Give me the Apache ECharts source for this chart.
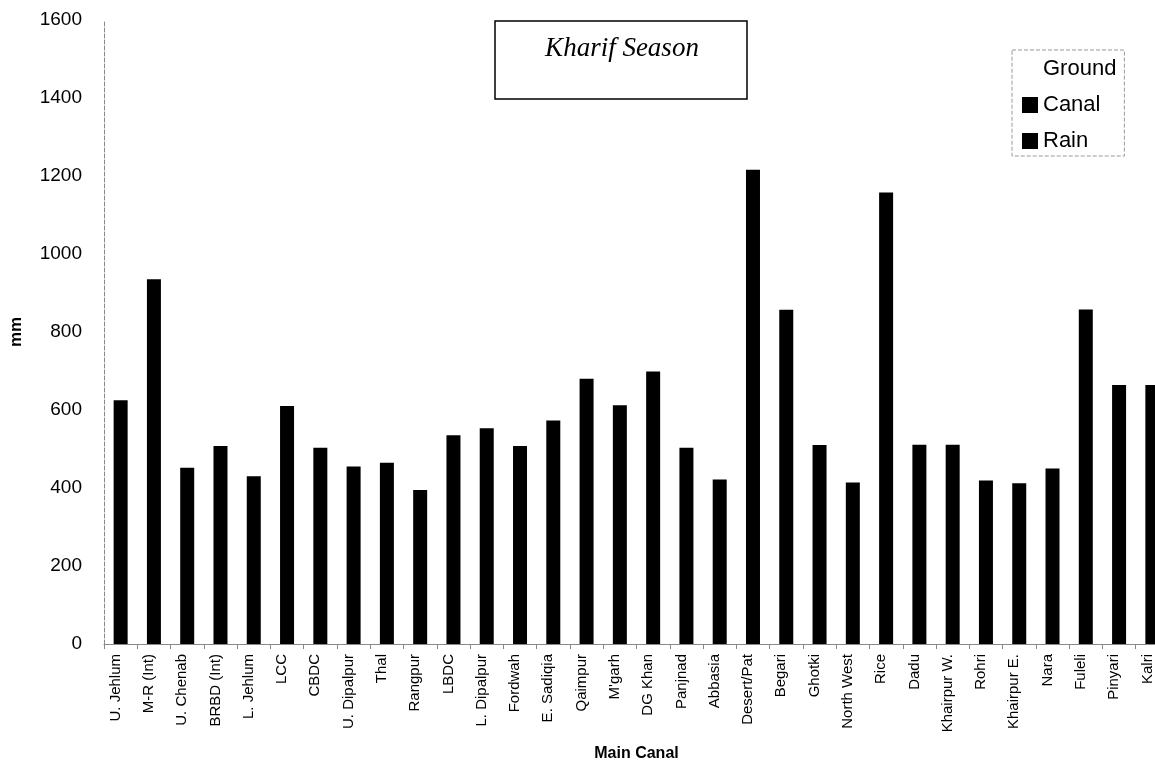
<!DOCTYPE html>
<html>
<head>
<meta charset="utf-8">
<script src="https://cdn.jsdelivr.net/npm/echarts@6/dist/echarts.min.js"></script>
<style>html,body{margin:0;padding:0;background:#fff;overflow:hidden;}#c{width:1155px;height:767px;}</style>
</head>
<body>
<div id="c"></div>
<script>
const categories = ["U. Jehlum","M-R (Int)","U. Chenab","BRBD (Int)","L. Jehlum","LCC","CBDC","U. Dipalpur","Thal","Rangpur","LBDC","L. Dipalpur","Fordwah","E. Sadiqia","Qaimpur","M'garh","DG Khan","Panjnad","Abbasia","Desert/Pat","Begari","Ghotki","North West","Rice","Dadu","Khairpur W.","Rohri","Khairpur E.","Nara","Fuleli","Pinyari","Kalri"];
// Bars appear solid black (Canal + Rain stacks indistinguishable); totals
const canalPlusRain = [625,935,452,508,430,610,503,455,465,395,535,553,508,573,680,612,699,503,422,1216,857,510,414,1158,511,511,419,412,450,858,664,664];
const ground = [];
const rain = [];
const yTicks = [0,200,400,600,800,1000,1200,1400,1600];

const chart = echarts.init(document.getElementById('c'));
chart.setOption({
  animation: false,
  backgroundColor: '#fff',
  title: {
    text: 'Kharif Season',
    left: 617, top: 30, textAlign: 'center',
    textStyle: {fontFamily: 'Liberation Serif', fontStyle: 'italic', fontWeight: 'normal', fontSize: 27, color: '#000'}
  },
  graphic: [{
    type: 'rect', shape: {x: 495, y: 21, width: 252, height: 78},
    style: {fill: 'none', stroke: '#000', lineWidth: 1.5}, silent: true
  }],
  legend: {
    orient: 'vertical', left: 1012, top: 50,
    padding: [8, 8, 4, 10], itemGap: 14,
    itemWidth: 16, itemHeight: 16, icon: 'rect',
    borderColor: '#999', borderWidth: 1, borderType: 'dashed',
    textStyle: {fontFamily: 'Liberation Sans', fontSize: 22, color: '#000', lineHeight: 22},
    data: ['Ground','Canal','Rain']
  },
  grid: {left: 104, top: 20, width: 1065, bottom: 123, containLabel: false, outerBoundsMode: 'none'},
  xAxis: {
    type: 'category', data: categories,
    name: 'Main Canal', nameLocation: 'middle', nameGap: 102,
    nameTextStyle: {fontFamily: 'Liberation Sans', fontWeight: 'bold', fontSize: 16, color: '#000'},
    axisLine: {lineStyle: {color: '#888', width: 1}},
    axisTick: {show: true, length: 5, lineStyle: {color: '#888'}},
    axisLabel: {rotate: 90, interval: 0, margin: 10, verticalAlign: 'bottom', lineHeight: 10,
      fontFamily: 'Liberation Sans', fontSize: 15, color: '#000'}
  },
  yAxis: {
    type: 'value', min: 0, max: 1600, interval: 200,
    name: 'mm', nameLocation: 'middle', nameGap: 79,
    nameTextStyle: {fontFamily: 'Liberation Sans', fontWeight: 'bold', fontSize: 17, color: '#000'},
    axisLine: {show: true, lineStyle: {color: '#888', type: 'dashed', width: 1}},
    axisTick: {show: false},
    splitLine: {show: false},
    axisLabel: {margin: 22, fontFamily: 'Liberation Sans', fontSize: 19, color: '#000',
      formatter: v => yTicks.includes(v) ? String(v) : ''}
  },
  series: [
    {name: 'Ground', type: 'bar', stack: 'w', data: ground, itemStyle: {color: '#ffffff'}, barWidth: 14},
    {name: 'Canal', type: 'bar', stack: 'w', data: canalPlusRain, itemStyle: {color: '#000000'}, barWidth: 14},
    {name: 'Rain', type: 'bar', stack: 'w', data: rain, itemStyle: {color: '#000000'}, barWidth: 14}
  ]
});
</script>
</body>
</html>
